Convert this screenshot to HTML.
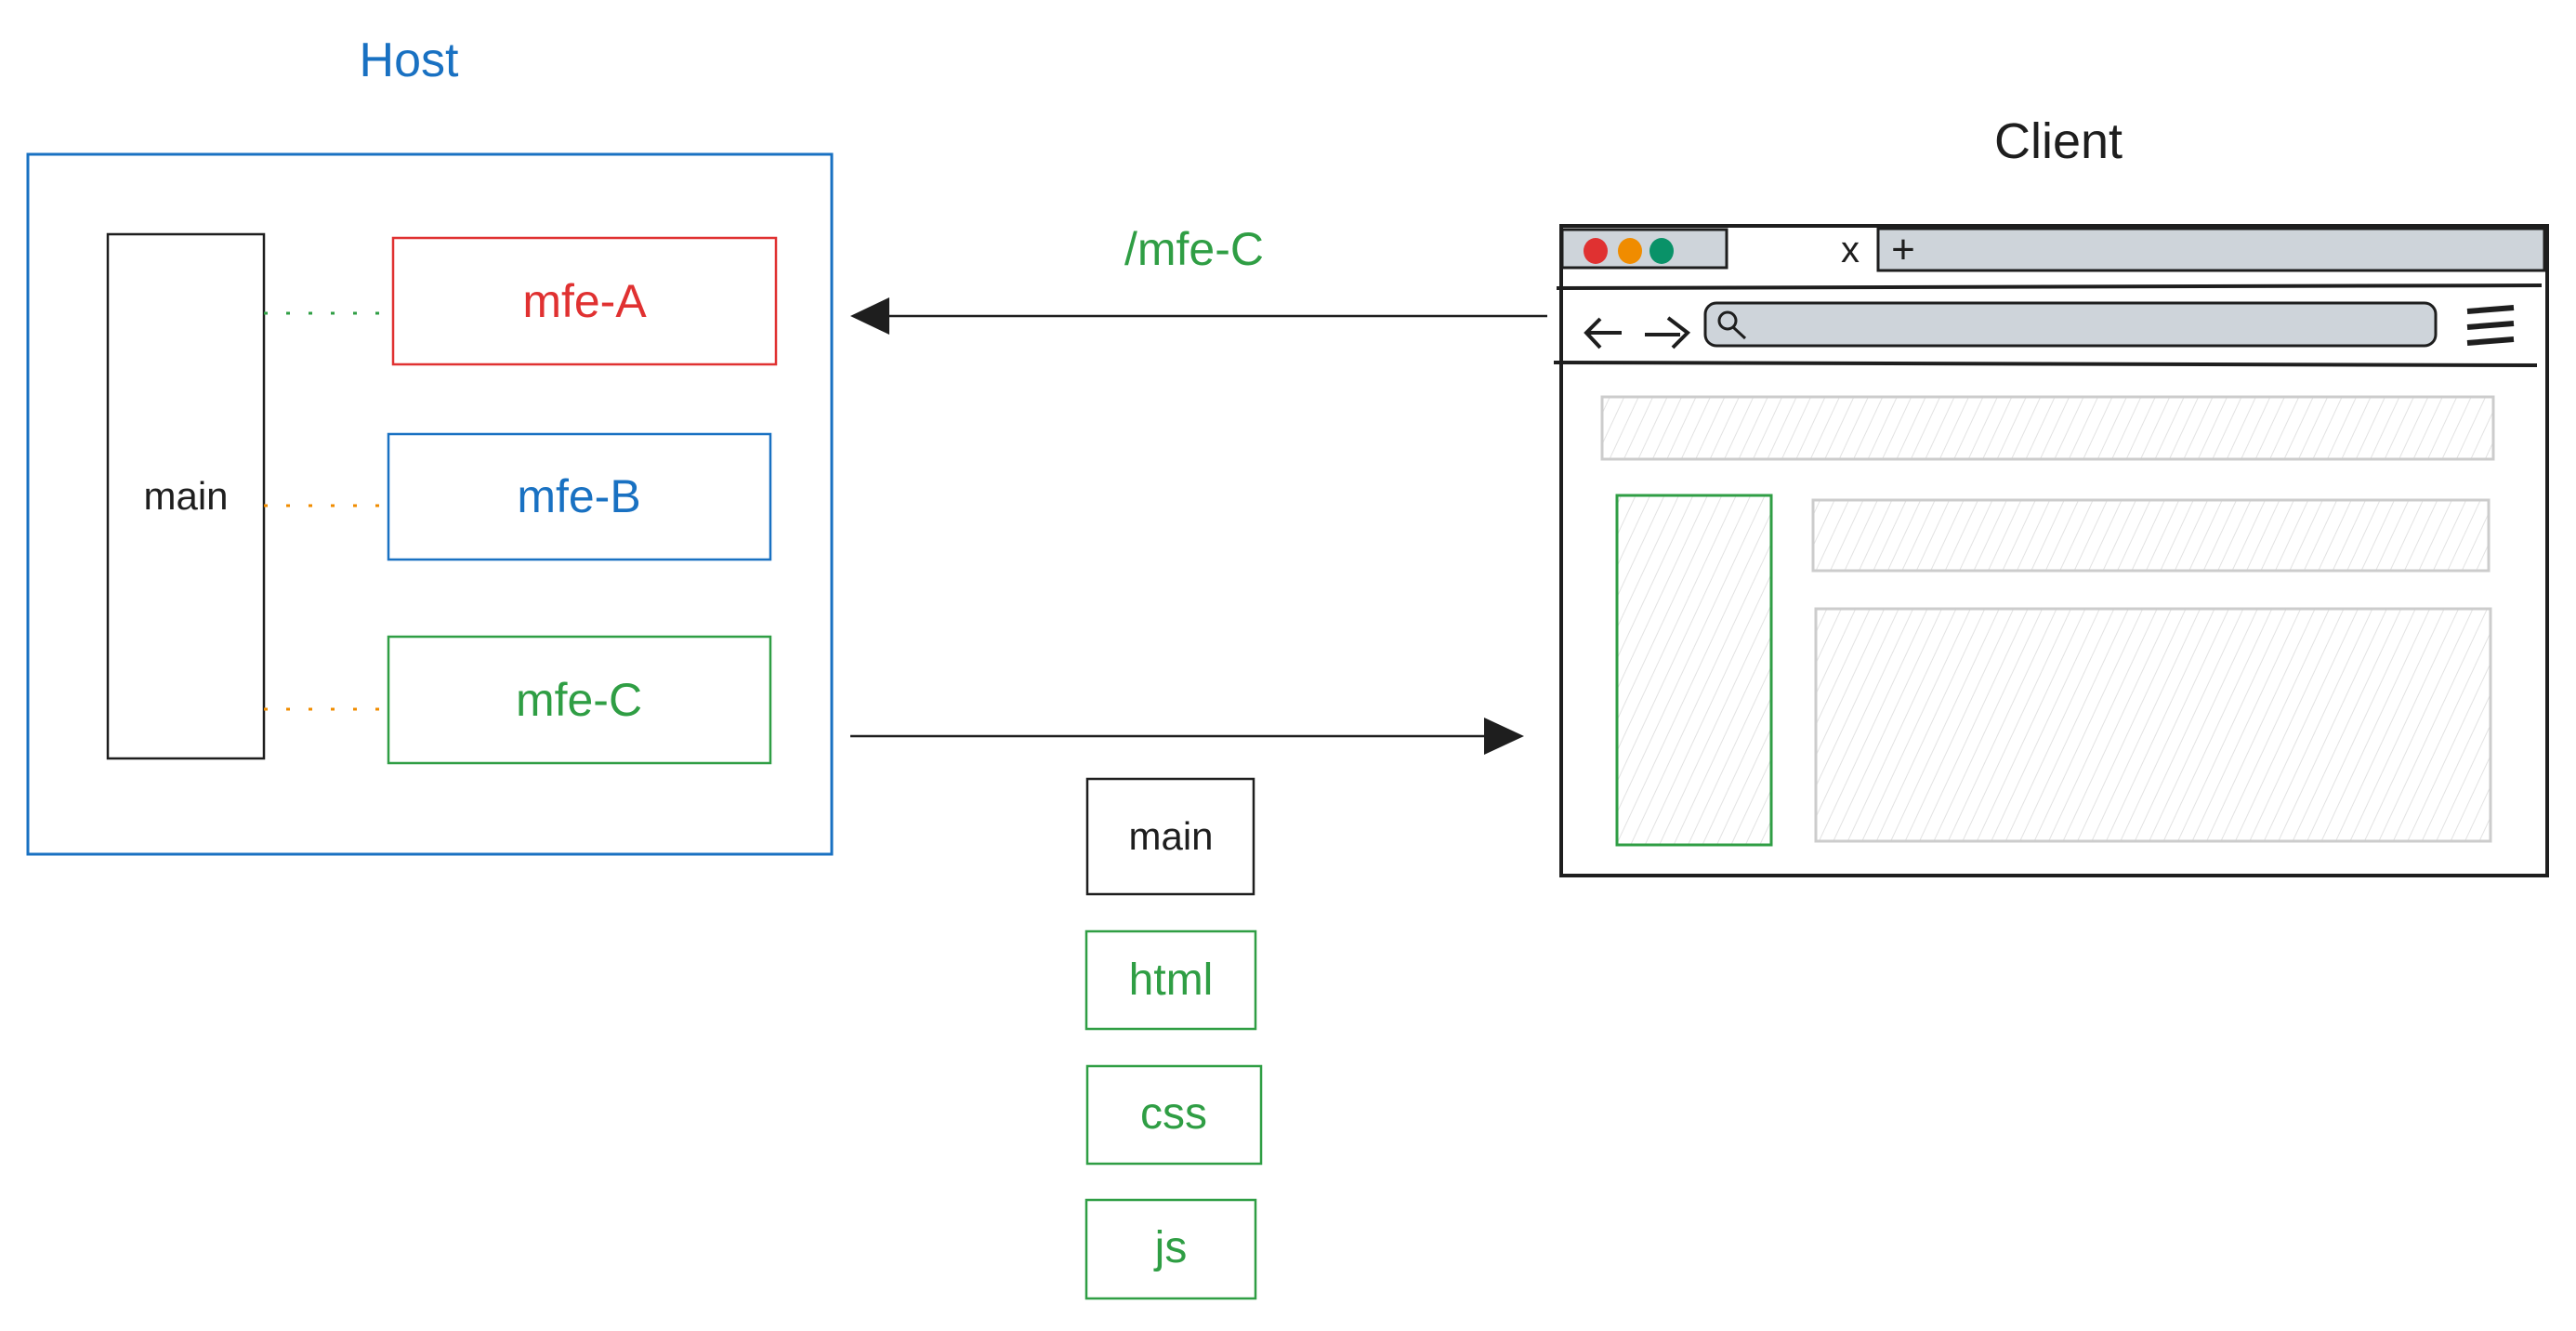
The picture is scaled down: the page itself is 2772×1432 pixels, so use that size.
<!DOCTYPE html>
<html><head><meta charset="utf-8"><style>html,body{margin:0;padding:0;background:#fff}</style></head>
<body>
<svg width="2772" height="1427" viewBox="0 0 2772 1427" xmlns="http://www.w3.org/2000/svg" font-family="Liberation Sans, sans-serif">
<defs>
<pattern id="h" width="14" height="14" patternUnits="userSpaceOnUse" patternTransform="rotate(25)">
<line x1="0" y1="0" x2="0" y2="14" stroke="#e2e2e2" stroke-width="2"/>
</pattern>
</defs>
<rect width="2772" height="1427" fill="#fff"/>
<!-- Host -->
<text x="440" y="82" font-size="52" fill="#1971c2" text-anchor="middle">Host</text>
<rect x="30" y="166" width="865" height="753" fill="none" stroke="#1971c2" stroke-width="3"/>
<rect x="116" y="252" width="168" height="564" fill="none" stroke="#1e1e1e" stroke-width="2.5"/>
<text x="200" y="548" font-size="42" fill="#1e1e1e" text-anchor="middle">main</text>
<rect x="423" y="256" width="412" height="136" fill="none" stroke="#e03131" stroke-width="2.5"/>
<text x="629" y="341" font-size="50" fill="#e03131" text-anchor="middle">mfe-A</text>
<rect x="418" y="467" width="411" height="135" fill="none" stroke="#1971c2" stroke-width="2.5"/>
<text x="623" y="551" font-size="50" fill="#1971c2" text-anchor="middle">mfe-B</text>
<rect x="418" y="685" width="411" height="136" fill="none" stroke="#2f9e44" stroke-width="2.5"/>
<text x="623" y="770" font-size="50" fill="#2f9e44" text-anchor="middle">mfe-C</text>
<line x1="284" y1="337" x2="418" y2="337" stroke="#2f9e44" stroke-width="3" stroke-dasharray="4 20"/>
<line x1="284" y1="544" x2="418" y2="544" stroke="#f08c00" stroke-width="3" stroke-dasharray="4 20"/>
<line x1="284" y1="763" x2="418" y2="763" stroke="#f08c00" stroke-width="3" stroke-dasharray="4 20"/>
<!-- arrows -->
<text x="1285" y="285" font-size="50" fill="#2f9e44" text-anchor="middle">/mfe-C</text>
<line x1="1665" y1="340" x2="950" y2="340" stroke="#1e1e1e" stroke-width="2.5"/>
<polygon points="915,340 957,320 957,360" fill="#1e1e1e"/>
<line x1="915" y1="792" x2="1600" y2="792" stroke="#1e1e1e" stroke-width="2.5"/>
<polygon points="1640,792 1597,772 1597,812" fill="#1e1e1e"/>
<!-- small boxes -->
<rect x="1170" y="838" width="179" height="124" fill="none" stroke="#1e1e1e" stroke-width="2.5"/>
<text x="1260" y="914" font-size="42" fill="#1e1e1e" text-anchor="middle">main</text>
<rect x="1169" y="1002" width="182" height="105" fill="none" stroke="#2f9e44" stroke-width="2.5"/>
<text x="1260" y="1070" font-size="48" fill="#2f9e44" text-anchor="middle">html</text>
<rect x="1170" y="1147" width="187" height="105" fill="none" stroke="#2f9e44" stroke-width="2.5"/>
<text x="1263" y="1214" font-size="48" fill="#2f9e44" text-anchor="middle">css</text>
<rect x="1169" y="1291" width="182" height="106" fill="none" stroke="#2f9e44" stroke-width="2.5"/>
<text x="1260" y="1358" font-size="48" fill="#2f9e44" text-anchor="middle">js</text>
<!-- Client -->
<text x="2215" y="170" font-size="54" fill="#1e1e1e" text-anchor="middle">Client</text>
<rect x="1680" y="243" width="1061" height="699" fill="#fff" stroke="#1e1e1e" stroke-width="4"/>
<rect x="1681" y="247" width="177" height="41" fill="#ced4da" stroke="#1e1e1e" stroke-width="3"/>
<ellipse cx="1717" cy="270" rx="13" ry="14" fill="#e03131"/>
<ellipse cx="1754" cy="270" rx="13" ry="14" fill="#f08c00"/>
<ellipse cx="1788" cy="270" rx="13" ry="14" fill="#099268"/>
<text x="1991" y="282" font-size="40" fill="#1e1e1e" text-anchor="middle">x</text>
<rect x="2021" y="246" width="717" height="45" fill="#ced4da" stroke="#1e1e1e" stroke-width="3"/>
<text x="2048" y="283" font-size="44" fill="#1e1e1e" text-anchor="middle">+</text>
<line x1="1675" y1="310" x2="2735" y2="307" stroke="#1e1e1e" stroke-width="4"/>
<rect x="1835" y="326" width="786" height="46" rx="12" fill="#ced4da" stroke="#1e1e1e" stroke-width="3"/>
<circle cx="1859" cy="345" r="9" fill="none" stroke="#1e1e1e" stroke-width="3"/>
<line x1="1865" y1="352" x2="1878" y2="364" stroke="#1e1e1e" stroke-width="3"/>
<path d="M1745 358 H1708 M1722 343 L1707 358 L1722 374" fill="none" stroke="#1e1e1e" stroke-width="4"/>
<path d="M1770 360 H1808 M1795 342 L1816 358 L1800 374" fill="none" stroke="#1e1e1e" stroke-width="4"/>
<line x1="2655" y1="335" x2="2705" y2="331" stroke="#1e1e1e" stroke-width="6"/>
<line x1="2655" y1="352" x2="2705" y2="348" stroke="#1e1e1e" stroke-width="6"/>
<line x1="2655" y1="369" x2="2705" y2="365" stroke="#1e1e1e" stroke-width="6"/>
<line x1="1672" y1="390" x2="2730" y2="393" stroke="#1e1e1e" stroke-width="4"/>
<rect x="1724" y="427" width="959" height="67" fill="url(#h)" stroke="#ccc" stroke-width="3"/>
<rect x="1740" y="533" width="166" height="376" fill="url(#h)" stroke="#2f9e44" stroke-width="3"/>
<rect x="1951" y="538" width="727" height="76" fill="url(#h)" stroke="#ccc" stroke-width="3"/>
<rect x="1954" y="655" width="726" height="250" fill="url(#h)" stroke="#ccc" stroke-width="3"/>
</svg>
</body></html>
